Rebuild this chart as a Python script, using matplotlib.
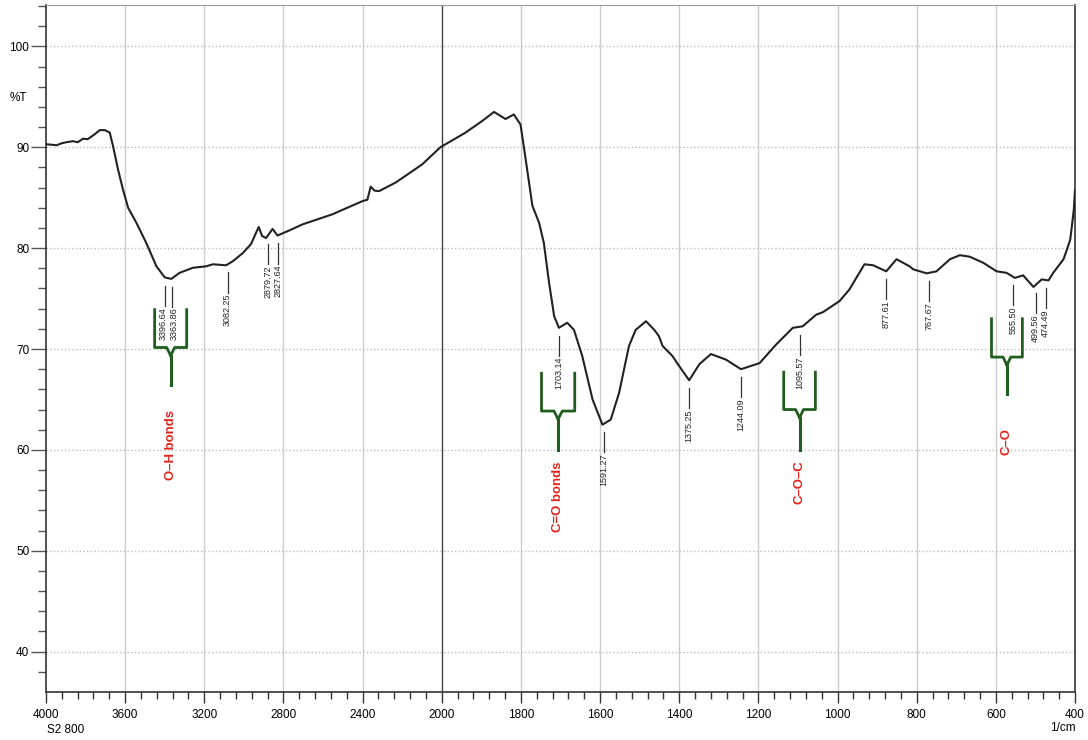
"""FTIR spectrum of S2 800."""

import numpy as np
import matplotlib
matplotlib.use('Agg')
import matplotlib.pyplot as plt
from matplotlib.ticker import FixedLocator, NullFormatter

plt.rcParams['font.family'] = ['Liberation Sans', 'DejaVu Sans']

# spectrum (1/cm, %T)
wavenumber = [4000, 3946, 3920, 3896, 3864, 3840, 3812, 3790, 3778, 3753,
              3728, 3703, 3678, 3661, 3636, 3611, 3585, 3543, 3493, 3442,
              3400, 3367, 3325, 3258, 3190, 3157, 3090, 3056, 3006, 2964,
              2939, 2925, 2908, 2888, 2855, 2830, 2771, 2704, 2553, 2402,
              2376, 2359, 2340, 2317, 2233, 2099, 2007, 1940, 1898, 1868,
              1839, 1818, 1801, 1788, 1771, 1754, 1742, 1729, 1716, 1704,
              1683, 1666, 1645, 1619, 1594, 1573, 1552, 1527, 1510, 1484,
              1463, 1451, 1442, 1417, 1400, 1375, 1349, 1320, 1282, 1244,
              1197, 1155, 1113, 1088, 1054, 1037, 995, 970, 932, 910,
              877, 851, 818, 809, 775, 750, 716, 691, 666, 632,
              598, 573, 552, 531, 505, 484, 467, 455, 429, 420,
              412, 403, 400]
transmittance = [90.3, 90.2, 90.4, 90.5, 90.6, 90.5, 90.85, 90.8, 90.95, 91.3,
                 91.7, 91.7, 91.45, 90.1, 87.8, 85.8, 84.0, 82.5, 80.5, 78.2,
                 77.1, 76.95, 77.55, 78.05, 78.2, 78.4, 78.3, 78.7, 79.5, 80.4,
                 81.5, 82.1, 81.2, 81.0, 81.9, 81.25, 81.75, 82.35, 83.35, 84.65,
                 84.8, 86.1, 85.7, 85.65, 86.5, 88.3, 90.0, 91.45, 92.6, 93.5,
                 92.8, 93.25, 92.25, 88.8, 84.2, 82.5, 80.5, 76.6, 73.25, 72.1,
                 72.6, 71.9, 69.3, 65.0, 62.5, 63.0, 65.65, 70.3, 71.9, 72.75,
                 71.9, 71.25, 70.3, 69.3, 68.3, 66.9, 68.5, 69.5, 68.95, 68.0,
                 68.6, 70.45, 72.1, 72.25, 73.4, 73.65, 74.75, 75.9, 78.4, 78.3,
                 77.7, 78.9, 78.2, 77.9, 77.5, 77.7, 78.9, 79.3, 79.15, 78.55,
                 77.7, 77.55, 77.05, 77.3, 76.15, 76.9, 76.8, 77.55, 78.9, 79.9,
                 80.85, 83.8, 85.8]

# peak picks
peaks = [3396.64, 3363.86, 3082.25, 2879.72, 2827.64, 1703.14, 1591.27,
         1375.25, 1244.09, 1095.57, 877.61, 767.67, 555.50, 499.56, 474.49]

# bond groups: label, centre, half width, bracket top / mid / bottom, label top
groups = ['O\u2013H bonds', 'C=O bonds', 'C\u2013O\u2013C', 'C\u2013O']
group_center = [3370, 1706, 1096, 572]
group_half = [81, 42, 40, 39]
group_top = [73.9, 67.6, 67.7, 73.0]
group_mid = [70.15, 63.85, 64.0, 69.2]
group_bottom = [66.4, 60.0, 60.0, 65.5]
group_label = [64.0, 58.8, 59.0, 62.2]

x = np.array(wavenumber, dtype=float)
y = np.array(transmittance)


# instrument style axis: 2x expansion below 2000 1/cm
def fwd(v):
    v = np.asarray(v, dtype=float)
    return np.where(v >= 2000, v - 2000, 2 * (v - 2000))


def inv(t):
    t = np.asarray(t, dtype=float)
    return np.where(t >= 0, t + 2000, t / 2 + 2000)


fig = plt.figure(figsize=(10.88, 7.40), dpi=100)
ax = fig.add_axes([46 / 1088, 1 - 692 / 740, 1029 / 1088, 687 / 740])
ax.set_xscale('function', functions=(fwd, inv))
ax.set_xlim(4000, 400)
ax.set_ylim(36.0, 104.1)

major_x = [4000, 3600, 3200, 2800, 2400, 2000, 1800, 1600, 1400, 1200,
           1000, 800, 600, 400]
minor_x = list(np.arange(4000, 2000, -80)) + list(np.arange(2000, 399, -40))
ax.xaxis.set_major_locator(FixedLocator(major_x))
ax.xaxis.set_minor_locator(FixedLocator(minor_x))
ax.xaxis.set_minor_formatter(NullFormatter())
ax.set_xticklabels([str(v) for v in major_x])
ax.yaxis.set_major_locator(FixedLocator([40, 50, 60, 70, 80, 90, 100]))
ax.yaxis.set_minor_locator(FixedLocator(np.arange(38, 104.5, 2)))

ax.tick_params(axis='x', which='major', length=8, width=1, color='#333333',
               labelsize=8.5, pad=4, direction='out')
ax.tick_params(axis='x', which='minor', length=5, width=1, color='#333333',
               direction='out')
ax.tick_params(axis='y', which='major', length=11, width=1, color='#555555',
               labelsize=8.5, pad=1, direction='out')
ax.tick_params(axis='y', which='minor', length=6, width=1, color='#555555',
               direction='out')

for s in ['left', 'bottom', 'right']:
    ax.spines[s].set_color('#333333')
    ax.spines[s].set_linewidth(1.2)
ax.spines['top'].set_color('#999999')

# grid
for v in major_x[1:-1]:
    if v == 2000:
        ax.axvline(v, color='#444444', lw=1.0, zorder=1)
    else:
        ax.axvline(v, color='#cccccc', lw=1.0, zorder=1)
for v in [40, 50, 60, 70, 80, 90, 100]:
    ax.axhline(v, color='#bbbbbb', lw=1.0, ls=':', zorder=1)

ax.plot(x, y, color='#222222', lw=1.5, zorder=3)

# peak labels; the two O-H picks sit close, nudge their text apart
order = np.argsort(x)
nudge = {3396.64: 10, 3363.86: -10}
for p in peaks:
    top = np.interp(p, x[order], y[order]) - 0.8
    ax.plot([p, p], [top, top - 2.0], color='#333333', lw=0.9, zorder=3)
    ax.text(p + nudge.get(p, 0), top - 2.1, '%.2f' % p, rotation=90,
            ha='center', va='top', fontsize=6.5, color='#222222', zorder=4)

# bond brackets
green = '#1f5e1f'
for i, name in enumerate(groups):
    c = group_center[i]
    h = group_half[i]
    d = h * 0.25
    t, m, b = group_top[i], group_mid[i], group_bottom[i]
    ax.plot([c - h, c - h, c - d, c], [t, m, m, m - 0.8], color=green, lw=2)
    ax.plot([c + h, c + h, c + d, c], [t, m, m, m - 0.8], color=green, lw=2)
    ax.plot([c, c], [m - 0.8, b], color=green, lw=2.2)
    ax.text(c, group_label[i], name, rotation=90, ha='center', va='top',
            fontsize=9.5, fontweight='bold', color='#e2231a')

fig.text(18 / 1088, 1 - 98 / 740, '%T', fontsize=8.5, ha='center',
         va='center')
fig.text(47 / 1088, 1 - 730 / 740, 'S2 800', fontsize=8.5, ha='left',
         va='center')
fig.text(1063 / 1088, 1 - 728 / 740, '1/cm', fontsize=8.5, ha='center',
         va='center')

plt.savefig('out.png', dpi=100)
